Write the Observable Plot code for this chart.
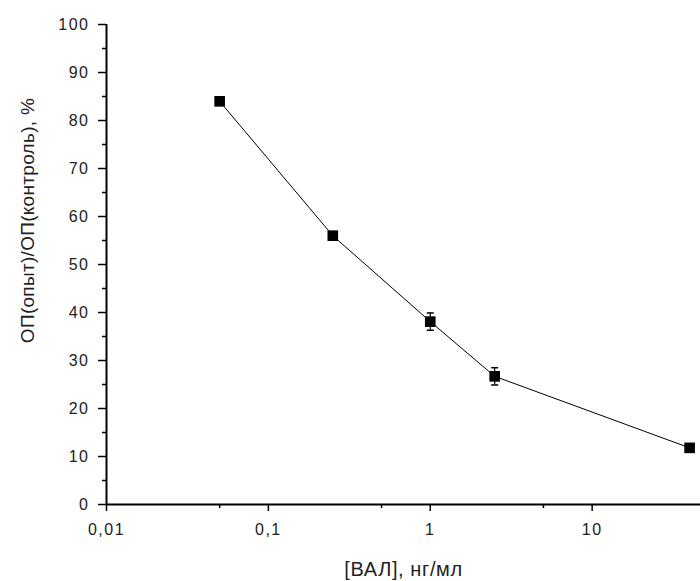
<!DOCTYPE html>
<html>
<head>
<meta charset="utf-8">
<script src="https://cdn.jsdelivr.net/npm/d3@7"></script>
<script src="https://cdn.jsdelivr.net/npm/@observablehq/plot@0.6"></script>
<style>
  html, body { margin: 0; padding: 0; background: #fff; }
  svg { font-family: "Liberation Sans", Arial, sans-serif; }
  g[aria-label="x-axis tick label"] text,
  g[aria-label="y-axis tick label"] text { letter-spacing: 1.5px; }
  .xlab text { letter-spacing: 0.6px; }
  .ylab text { letter-spacing: 0.3px; }
</style>
</head>
<body>
<div id="chart"></div>
<script>
// Data
const conc = [0.05, 0.25, 1, 2.5, 40];          // [ВАЛ], нг/мл
const ratio = [84.0, 56.0, 38.1, 26.7, 11.8];     // ОП(опыт)/ОП(контроль), %
const err = [0.6, 0.6, 1.8, 1.8, 0.6];            // error bar half-widths

const xTicks = [0.01, 0.1, 1, 10];
const xTickLabels = ["0,01", "0,1", "1", "10"];
const xMinorTicks = [0.05, 0.5, 5];
const yTicks = [0, 10, 20, 30, 40, 50, 60, 70, 80, 90, 100];
const yMinorTicks = [5, 15, 25, 35, 45, 55, 65, 75, 85, 95];

const xLabel = "[ВАЛ], нг/мл";
const yLabel = "ОП(опыт)/ОП(контроль), %";

const data = conc.map((c, i) => ({x: c, y: ratio[i], e: err[i]}));

const capSymbol = {
  draw(ctx, size) {
    const w = Math.sqrt(size / Math.PI);
    ctx.moveTo(-w, 0);
    ctx.lineTo(w, 0);
  }
};

const chart = Plot.plot({
  width: 700,
  height: 581,
  marginLeft: 106,
  marginRight: 0,
  marginTop: 24,
  marginBottom: 77,
  x: {type: "log", domain: [0.01, 46.7]},
  y: {domain: [0, 100]},
  marks: [
    // minor ticks
    Plot.axisY(yMinorTicks, {tickSize: 4, tickFormat: () => "", label: null, strokeWidth: 1.5, stroke: "#000"}),
    Plot.axisX(xMinorTicks, {tickSize: 4, tickFormat: () => "", label: null, strokeWidth: 1.5, stroke: "#000"}),
    // major ticks with labels
    Plot.axisY(yTicks, {tickSize: 8, tickPadding: 9, fontSize: 16, label: null, strokeWidth: 1.5, stroke: "#000", color: "#222", tickFormat: d => String(d)}),
    Plot.axisX(xTicks, {tickSize: 7, tickPadding: 12, fontSize: 16, label: null, strokeWidth: 1.5, stroke: "#000", color: "#222",
      tickFormat: d => xTickLabels[xTicks.indexOf(d)]}),
    // axis lines
    Plot.ruleX([0.01], {y1: 0, y2: 100, stroke: "#000", strokeWidth: 2}),
    Plot.ruleY([0], {stroke: "#000", strokeWidth: 2}),
    // data line
    Plot.line(data, {x: "x", y: "y", stroke: "#000", strokeWidth: 1}),
    // error bars
    Plot.ruleX(data, {x: "x", y1: d => d.y - d.e, y2: d => d.y + d.e, stroke: "#000", strokeWidth: 1.2}),
    Plot.dot(data, {x: "x", y: d => d.y - d.e, symbol: capSymbol, r: 3.5, stroke: "#000", strokeWidth: 1.5}),
    Plot.dot(data, {x: "x", y: d => d.y + d.e, symbol: capSymbol, r: 3.5, stroke: "#000", strokeWidth: 1.5}),
    // markers
    Plot.dot(data, {x: "x", y: "y", symbol: "square", r: 6, fill: "#000", stroke: "none"}),
    // axis titles
    Plot.text([xLabel], {frameAnchor: "bottom", text: d => d, dy: 71, lineAnchor: "bottom", fontSize: 20, fill: "#222", className: "xlab"}),
    Plot.text([yLabel], {frameAnchor: "left", text: d => d, rotate: -90, dx: -73, dy: -44, textAnchor: "middle", lineAnchor: "bottom", fontSize: 19, fill: "#222", className: "ylab"})
  ]
});
document.getElementById("chart").appendChild(chart);
</script>
</body>
</html>
